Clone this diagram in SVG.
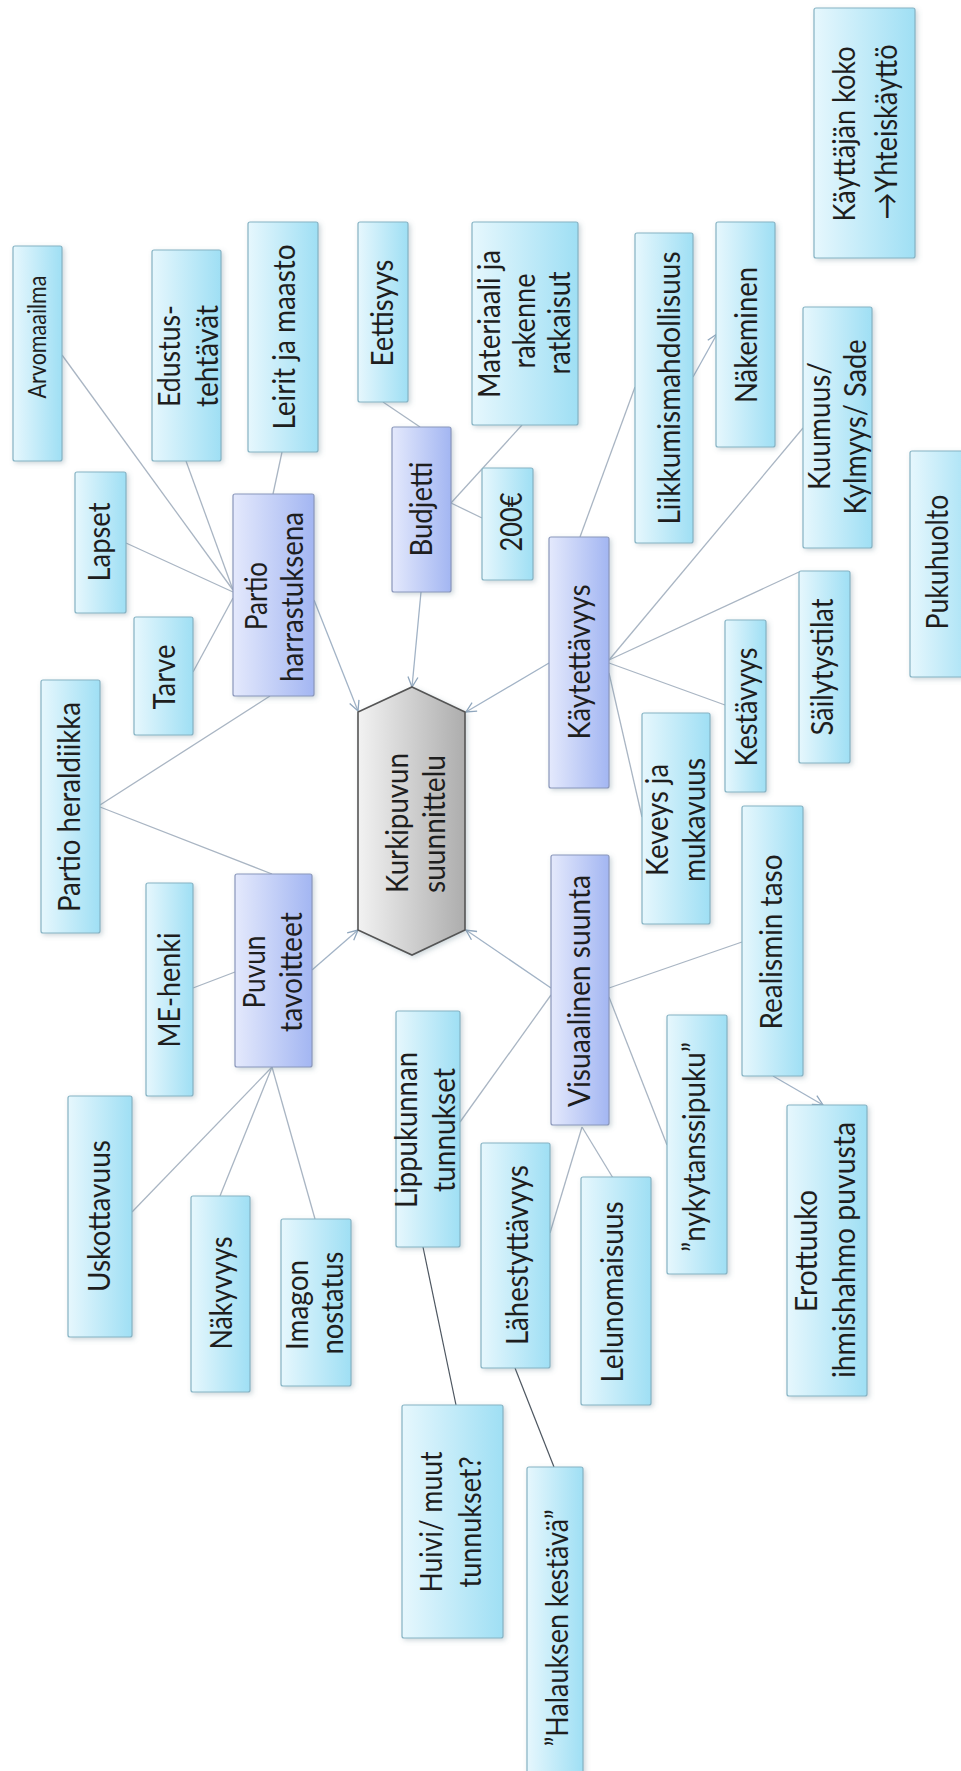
<svg xmlns="http://www.w3.org/2000/svg" width="961" height="1771" viewBox="0 0 961 1771">
<defs>
<linearGradient id="gLeaf" x1="0" y1="0" x2="1" y2="0">
<stop offset="0" stop-color="#e6f7fd"/><stop offset="1" stop-color="#9fdff4"/>
</linearGradient>
<linearGradient id="gMain" x1="0" y1="0" x2="1" y2="0">
<stop offset="0" stop-color="#e4e9fc"/><stop offset="1" stop-color="#a3b6f2"/>
</linearGradient>
<linearGradient id="gHex" x1="0" y1="0" x2="1" y2="0">
<stop offset="0" stop-color="#f2f2f2"/><stop offset="1" stop-color="#adadad"/>
</linearGradient>
<filter id="sh" x="-20%" y="-20%" width="140%" height="140%">
<feDropShadow dx="2" dy="2" stdDeviation="2.5" flood-color="#5a7a88" flood-opacity="0.3"/>
</filter>
<marker id="arr" viewBox="0 0 12 12" refX="11" refY="6" markerWidth="12" markerHeight="12" markerUnits="userSpaceOnUse" orient="auto">
<path d="M1,1 L11,6 L1,11" fill="none" stroke="#8fa6bd" stroke-width="1.3"/>
</marker>
<style>
.leaf{fill:url(#gLeaf);stroke:#85b3c4;stroke-width:1.2;filter:url(#sh)}
.main{fill:url(#gMain);stroke:#8a97bb;stroke-width:1.2;filter:url(#sh)}
.hex{fill:url(#gHex);stroke:#555;stroke-width:1.6;filter:url(#sh)}
.t{font-family:Lato,"Liberation Sans",sans-serif;font-size:30px;fill:#1e1e1e;text-anchor:middle}
.c{fill:none;stroke:#a9b5c3;stroke-width:1.3}
.d{fill:none;stroke:#4d5660;stroke-width:1.2}
.a{fill:none;stroke:#a2b3c6;stroke-width:1.3;marker-end:url(#arr)}
</style>
</defs>
<rect width="961" height="1771" fill="#ffffff"/>

<g id="connectors">
<line class="c" x1="62" y1="355" x2="233" y2="590"/>
<line class="c" x1="186" y1="461" x2="233" y2="590"/>
<line class="c" x1="126" y1="543" x2="233" y2="592"/>
<line class="c" x1="193" y1="672" x2="233" y2="598"/>
<line class="c" x1="282" y1="452" x2="273" y2="494"/>
<line class="c" x1="270" y1="696" x2="100" y2="805"/>
<line class="c" x1="100" y1="807" x2="272" y2="874"/>
<line class="c" x1="383" y1="402" x2="420" y2="427"/>
<line class="c" x1="451" y1="503" x2="522" y2="425"/>
<line class="c" x1="451" y1="503" x2="482" y2="518"/>
<line class="c" x1="580" y1="537" x2="635" y2="387"/>
<line class="c" x1="609" y1="660" x2="803" y2="428"/>
<line class="c" x1="609" y1="660" x2="799" y2="572"/>
<line class="c" x1="609" y1="663" x2="725" y2="705"/>
<line class="c" x1="609" y1="673" x2="642" y2="817"/>
<line class="c" x1="193" y1="988" x2="235" y2="972"/>
<line class="c" x1="272" y1="1067" x2="132" y2="1212"/>
<line class="c" x1="272" y1="1067" x2="220" y2="1196"/>
<line class="c" x1="272" y1="1067" x2="315" y2="1219"/>
<line class="c" x1="551" y1="995" x2="460" y2="1122"/>
<line class="c" x1="609" y1="988" x2="742" y2="942"/>
<line class="c" x1="609" y1="997" x2="667" y2="1145"/>
<line class="c" x1="582" y1="1127" x2="550" y2="1233"/>
<line class="c" x1="582" y1="1127" x2="613" y2="1178"/>
<line class="d" x1="423" y1="1247" x2="456" y2="1405"/>
<line class="d" x1="515" y1="1368" x2="554" y2="1467"/>
<line class="a" x1="314" y1="600" x2="358" y2="711"/>
<line class="a" x1="421" y1="592" x2="412" y2="687"/>
<line class="a" x1="549" y1="663" x2="466" y2="712"/>
<line class="a" x1="312" y1="970" x2="358" y2="930"/>
<line class="a" x1="551" y1="988" x2="466" y2="930"/>
<line class="a" x1="693" y1="377" x2="717" y2="334"/>
<line class="a" x1="773" y1="1076" x2="823" y2="1105"/>
</g>

<g id="center">
<polygon class="hex" points="412,687 465,712 465,930 412,955 358,930 358,712"/>
<text class="t" transform="translate(408,823) rotate(-90)" textLength="140" lengthAdjust="spacingAndGlyphs">Kurkipuvun</text>
<text class="t" transform="translate(445,824) rotate(-90)" textLength="138" lengthAdjust="spacingAndGlyphs">suunnittelu</text>
</g>

<g id="partio-harrastuksena">
<rect class="main" x="233" y="494" width="81" height="202" rx="2"/>
<text class="t" transform="translate(267,596) rotate(-90)" textLength="68" lengthAdjust="spacingAndGlyphs">Partio</text>
<text class="t" transform="translate(303,597) rotate(-90)" textLength="170" lengthAdjust="spacingAndGlyphs">harrastuksena</text>
</g>
<g id="budjetti">
<rect class="main" x="392" y="427" width="59" height="165" rx="2"/>
<text class="t" transform="translate(432,509) rotate(-90)" textLength="95" lengthAdjust="spacingAndGlyphs">Budjetti</text>
</g>
<g id="kaytettavyys">
<rect class="main" x="549" y="537" width="60" height="251" rx="2"/>
<text class="t" transform="translate(590,662) rotate(-90)" textLength="155" lengthAdjust="spacingAndGlyphs">Käytettävyys</text>
</g>
<g id="puvun-tavoitteet">
<rect class="main" x="235" y="874" width="77" height="193" rx="2"/>
<text class="t" transform="translate(265,972) rotate(-90)" textLength="73" lengthAdjust="spacingAndGlyphs">Puvun</text>
<text class="t" transform="translate(302,972) rotate(-90)" textLength="120" lengthAdjust="spacingAndGlyphs">tavoitteet</text>
</g>
<g id="visuaalinen-suunta">
<rect class="main" x="551" y="855" width="58" height="270" rx="2"/>
<text class="t" transform="translate(590,991) rotate(-90)" textLength="232" lengthAdjust="spacingAndGlyphs">Visuaalinen  suunta</text>
</g>

<g id="arvomaailma">
<rect class="leaf" x="13" y="246" width="49" height="215" rx="2"/>
<text font-family="Lato, 'Liberation Sans', sans-serif" font-size="25" fill="#1e1e1e" text-anchor="middle" x="-337" y="46" transform="rotate(-90)" textLength="123" lengthAdjust="spacingAndGlyphs">Arvomaailma</text>
</g>
<g id="edustustehtavat">
<rect class="leaf" x="152" y="250" width="69" height="211" rx="2"/>
<text class="t" transform="translate(180,356) rotate(-90)" textLength="102" lengthAdjust="spacingAndGlyphs">Edustus-</text>
<text class="t" transform="translate(218,356) rotate(-90)" textLength="102" lengthAdjust="spacingAndGlyphs">tehtävät</text>
</g>
<g id="leirit">
<rect class="leaf" x="248" y="222" width="70" height="230" rx="2"/>
<text class="t" transform="translate(295,337) rotate(-90)" textLength="185" lengthAdjust="spacingAndGlyphs">Leirit ja maasto</text>
</g>
<g id="eettisyys">
<rect class="leaf" x="358" y="222" width="50" height="180" rx="2"/>
<text class="t" transform="translate(393,313) rotate(-90)" textLength="107" lengthAdjust="spacingAndGlyphs">Eettisyys</text>
</g>
<g id="materiaali">
<rect class="leaf" x="472" y="222" width="106" height="203" rx="2"/>
<text class="t" transform="translate(500,324) rotate(-90)" textLength="148" lengthAdjust="spacingAndGlyphs">Materiaali ja</text>
<text class="t" transform="translate(535,321) rotate(-90)" textLength="95" lengthAdjust="spacingAndGlyphs">rakenne</text>
<text class="t" transform="translate(570,323) rotate(-90)" textLength="103" lengthAdjust="spacingAndGlyphs">ratkaisut</text>
</g>
<g id="liikkumis">
<rect class="leaf" x="635" y="233" width="58" height="310" rx="2"/>
<text class="t" transform="translate(680,388) rotate(-90)" textLength="273" lengthAdjust="spacingAndGlyphs">Liikkumismahdollisuus</text>
</g>
<g id="nakeminen">
<rect class="leaf" x="716" y="222" width="59" height="225" rx="2"/>
<text class="t" transform="translate(757,335) rotate(-90)" textLength="136" lengthAdjust="spacingAndGlyphs">Näkeminen</text>
</g>
<g id="kayttajan-koko">
<rect class="leaf" x="814" y="8" width="101" height="250" rx="2"/>
<text class="t" transform="translate(855,134) rotate(-90)" textLength="175" lengthAdjust="spacingAndGlyphs">Käyttäjän koko</text>
<text class="t" transform="translate(897,132) rotate(-90)" textLength="175" lengthAdjust="spacingAndGlyphs">→Yhteiskäyttö</text>
</g>
<g id="kuumuus">
<rect class="leaf" x="803" y="307" width="69" height="241" rx="2"/>
<text class="t" transform="translate(830,426) rotate(-90)" textLength="128" lengthAdjust="spacingAndGlyphs">Kuumuus/</text>
<text class="t" transform="translate(866,427) rotate(-90)" textLength="175" lengthAdjust="spacingAndGlyphs">Kylmyys/ Sade</text>
</g>
<g id="pukuhuolto">
<rect class="leaf" x="910" y="451" width="70" height="226" rx="2"/>
<text class="t" transform="translate(948,562) rotate(-90)" textLength="135" lengthAdjust="spacingAndGlyphs">Pukuhuolto</text>
</g>
<g id="lapset">
<rect class="leaf" x="75" y="472" width="51" height="141" rx="2"/>
<text class="t" transform="translate(110,542) rotate(-90)" textLength="79" lengthAdjust="spacingAndGlyphs">Lapset</text>
</g>
<g id="tarve">
<rect class="leaf" x="134" y="617" width="59" height="118" rx="2"/>
<text class="t" transform="translate(175,677) rotate(-90)" textLength="65" lengthAdjust="spacingAndGlyphs">Tarve</text>
</g>
<g id="partio-heraldiikka">
<rect class="leaf" x="41" y="680" width="59" height="253" rx="2"/>
<text class="t" transform="translate(80,807) rotate(-90)" textLength="210" lengthAdjust="spacingAndGlyphs">Partio heraldiikka</text>
</g>
<g id="euro200">
<rect class="leaf" x="482" y="468" width="51" height="112" rx="2"/>
<text class="t" transform="translate(522,522) rotate(-90)" textLength="59" lengthAdjust="spacingAndGlyphs">200€</text>
</g>
<g id="sailytystilat">
<rect class="leaf" x="799" y="571" width="51" height="192" rx="2"/>
<text class="t" transform="translate(833,667) rotate(-90)" textLength="137" lengthAdjust="spacingAndGlyphs">Säilytystilat</text>
</g>
<g id="kestavyys">
<rect class="leaf" x="725" y="620" width="41" height="172" rx="2"/>
<text class="t" transform="translate(757,707) rotate(-90)" textLength="119" lengthAdjust="spacingAndGlyphs">Kestävyys</text>
</g>
<g id="keveys">
<rect class="leaf" x="642" y="713" width="68" height="211" rx="2"/>
<text class="t" transform="translate(668,820) rotate(-90)" textLength="112" lengthAdjust="spacingAndGlyphs">Keveys ja</text>
<text class="t" transform="translate(705,820) rotate(-90)" textLength="124" lengthAdjust="spacingAndGlyphs">mukavuus</text>
</g>
<g id="realismin-taso">
<rect class="leaf" x="742" y="806" width="61" height="270" rx="2"/>
<text class="t" transform="translate(782,942) rotate(-90)" textLength="175" lengthAdjust="spacingAndGlyphs">Realismin taso</text>
</g>
<g id="me-henki">
<rect class="leaf" x="146" y="883" width="47" height="213" rx="2"/>
<text class="t" transform="translate(180,990) rotate(-90)" textLength="115" lengthAdjust="spacingAndGlyphs">ME-henki</text>
</g>
<g id="uskottavuus">
<rect class="leaf" x="68" y="1096" width="64" height="241" rx="2"/>
<text class="t" transform="translate(110,1216) rotate(-90)" textLength="152" lengthAdjust="spacingAndGlyphs">Uskottavuus</text>
</g>
<g id="nakyvyys">
<rect class="leaf" x="191" y="1196" width="59" height="196" rx="2"/>
<text class="t" transform="translate(232,1293) rotate(-90)" textLength="113" lengthAdjust="spacingAndGlyphs">Näkyvyys</text>
</g>
<g id="imagon">
<rect class="leaf" x="281" y="1219" width="70" height="167" rx="2"/>
<text class="t" transform="translate(308,1305) rotate(-90)" textLength="90" lengthAdjust="spacingAndGlyphs">Imagon</text>
<text class="t" transform="translate(343,1303) rotate(-90)" textLength="103" lengthAdjust="spacingAndGlyphs">nostatus</text>
</g>
<g id="lippukunnan">
<rect class="leaf" x="396" y="1011" width="64" height="236" rx="2"/>
<text class="t" transform="translate(417,1130) rotate(-90)" textLength="156" lengthAdjust="spacingAndGlyphs">Lippukunnan</text>
<text class="t" transform="translate(455,1130) rotate(-90)" textLength="124" lengthAdjust="spacingAndGlyphs">tunnukset</text>
</g>
<g id="lahestyttavyys">
<rect class="leaf" x="481" y="1143" width="69" height="225" rx="2"/>
<text class="t" transform="translate(528,1255) rotate(-90)" textLength="180" lengthAdjust="spacingAndGlyphs">Lähestyttävyys</text>
</g>
<g id="lelunomaisuus">
<rect class="leaf" x="581" y="1177" width="70" height="228" rx="2"/>
<text class="t" transform="translate(623,1292) rotate(-90)" textLength="181" lengthAdjust="spacingAndGlyphs">Lelunomaisuus</text>
</g>
<g id="nykytanssipuku">
<rect class="leaf" x="667" y="1015" width="60" height="259" rx="2"/>
<text class="t" transform="translate(705,1147) rotate(-90)" textLength="210" lengthAdjust="spacingAndGlyphs">”nykytanssipuku”</text>
</g>
<g id="erottuuko">
<rect class="leaf" x="787" y="1105" width="80" height="291" rx="2"/>
<text class="t" transform="translate(817,1251) rotate(-90)" textLength="122" lengthAdjust="spacingAndGlyphs">Erottuuko</text>
<text class="t" transform="translate(855,1250) rotate(-90)" textLength="256" lengthAdjust="spacingAndGlyphs">ihmishahmo puvusta</text>
</g>
<g id="huivi">
<rect class="leaf" x="402" y="1405" width="101" height="233" rx="2"/>
<text class="t" transform="translate(442,1522) rotate(-90)" textLength="141" lengthAdjust="spacingAndGlyphs">Huivi/ muut</text>
<text class="t" transform="translate(481,1522) rotate(-90)" textLength="131" lengthAdjust="spacingAndGlyphs">tunnukset?</text>
</g>
<g id="halauksen">
<rect class="leaf" x="527" y="1467" width="56" height="330" rx="2"/>
<text class="t" transform="translate(568,1628) rotate(-90)" textLength="237" lengthAdjust="spacingAndGlyphs">”Halauksen kestävä”</text>
</g>
</svg>
